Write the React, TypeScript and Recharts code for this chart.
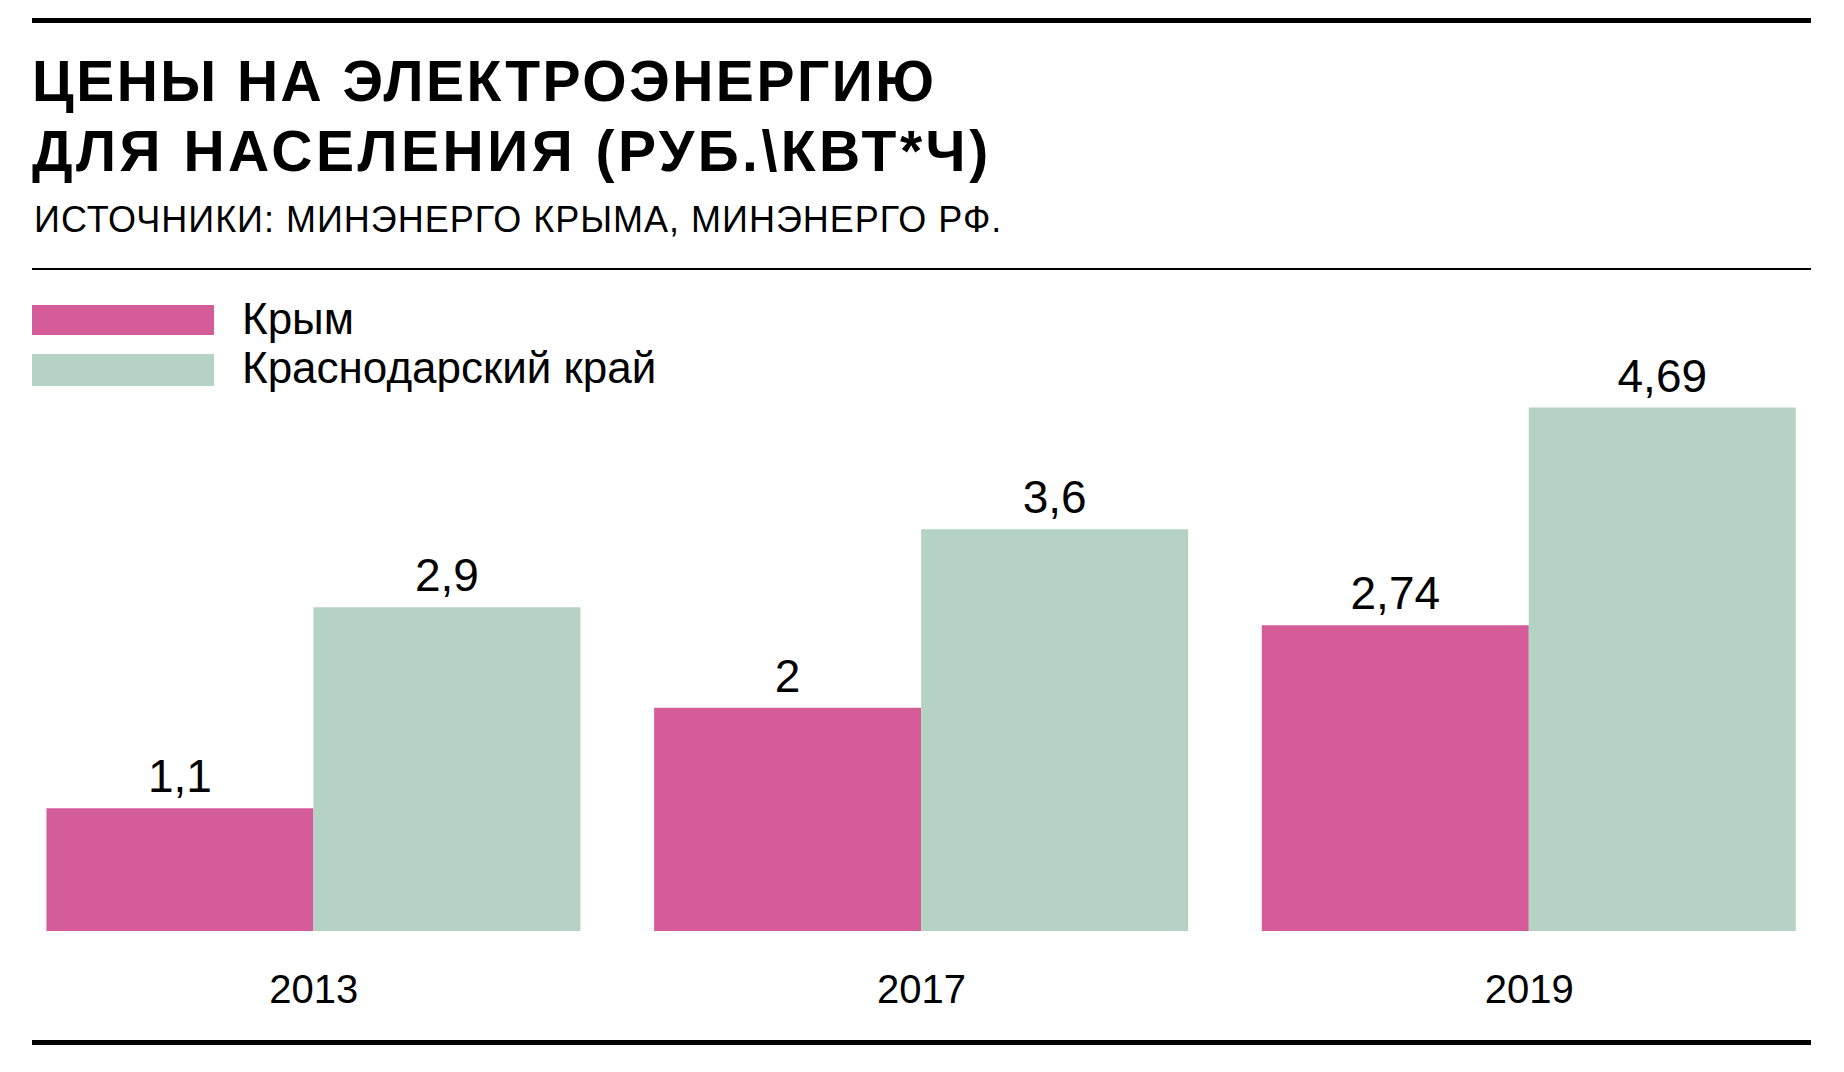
import React from 'react';
import { BarChart, Bar, XAxis, YAxis, LabelList } from 'recharts';

const years = ['2013', '2017', '2019'];
const crimea = [1.1, 2, 2.74];
const krasnodar = [2.9, 3.6, 4.69];
const seriesNames = ['Крым', 'Краснодарский край'];
const titleLines = ['ЦЕНЫ НА ЭЛЕКТРОЭНЕРГИЮ', 'ДЛЯ НАСЕЛЕНИЯ (РУБ.\\КВТ*Ч)'];
const sourceText = 'ИСТОЧНИКИ: МИНЭНЕРГО КРЫМА, МИНЭНЕРГО РФ.';

const PINK = '#D45D99';
const GREEN = '#B5D3C5';
const seriesColors = [PINK, GREEN];
const FONT = '"Liberation Sans", Arial, Helvetica, sans-serif';

const data = years.map((y, i) => ({ year: y, crimea: crimea[i], krasnodar: krasnodar[i] }));

const fmt = (v: any) => String(v).replace('.', ',');

const legendRows = [
  { top: 305, h: 30 },
  { top: 354, h: 32 },
];
const titleSpacing = [2.5, 3.5];

export default function App() {
  return (
    <div style={{ position: 'absolute', left: 0, top: 0, width: 1844, height: 1072, background: '#fff', overflow: 'hidden' }}>
      <div style={{ position: 'absolute', left: 32, top: 18, width: 1779, height: 5, background: '#000' }} />
      <div style={{ position: 'absolute', left: 32, top: 46, fontFamily: FONT, fontWeight: 700, fontSize: 57, lineHeight: '70px', color: '#000', whiteSpace: 'nowrap' }}>
        {titleLines.map((t, i) => (<div key={i} style={{ letterSpacing: titleSpacing[i] }}>{t}</div>))}
      </div>
      <div style={{ position: 'absolute', left: 34, top: 200, fontFamily: FONT, fontSize: 36, lineHeight: '40px', letterSpacing: 1, color: '#000', whiteSpace: 'nowrap' }}>
        {sourceText}
      </div>
      <div style={{ position: 'absolute', left: 32, top: 268, width: 1779, height: 2, background: '#000' }} />
      {seriesNames.map((name, i) => (
        <React.Fragment key={name}>
          <div style={{ position: 'absolute', left: 32, top: legendRows[i].top, width: 182, height: legendRows[i].h, background: seriesColors[i] }} />
          <div style={{ position: 'absolute', left: 242, top: legendRows[i].top - 11, fontFamily: FONT, fontSize: 44, lineHeight: '50px', color: '#000', whiteSpace: 'nowrap' }}>
            {name}
          </div>
        </React.Fragment>
      ))}
      <div style={{ position: 'absolute', left: 32, top: 1040, width: 1779, height: 5, background: '#000' }} />
      <div style={{ position: 'absolute', left: 0, top: 0 }}>
        <BarChart
          width={1844}
          height={1072}
          data={data}
          margin={{ top: 373, right: 11, bottom: 81, left: 10 }}
          barCategoryGap="6%"
          barGap={0}
        >
          <XAxis dataKey="year" axisLine={false} tickLine={false} tickMargin={38} height={60}
            tick={{ fontFamily: FONT, fontSize: 40, fill: '#000' }} />
          <YAxis hide domain={[0, 5]} />
          <Bar dataKey="crimea" name={seriesNames[0]} fill={PINK} isAnimationActive={false}>
            <LabelList dataKey="crimea" position="top" offset={16} formatter={fmt}
              style={{ fontFamily: FONT, fontSize: 46, fill: '#000' }} />
          </Bar>
          <Bar dataKey="krasnodar" name={seriesNames[1]} fill={GREEN} isAnimationActive={false}>
            <LabelList dataKey="krasnodar" position="top" offset={16} formatter={fmt}
              style={{ fontFamily: FONT, fontSize: 46, fill: '#000' }} />
          </Bar>
        </BarChart>
      </div>
    </div>
  );
}
